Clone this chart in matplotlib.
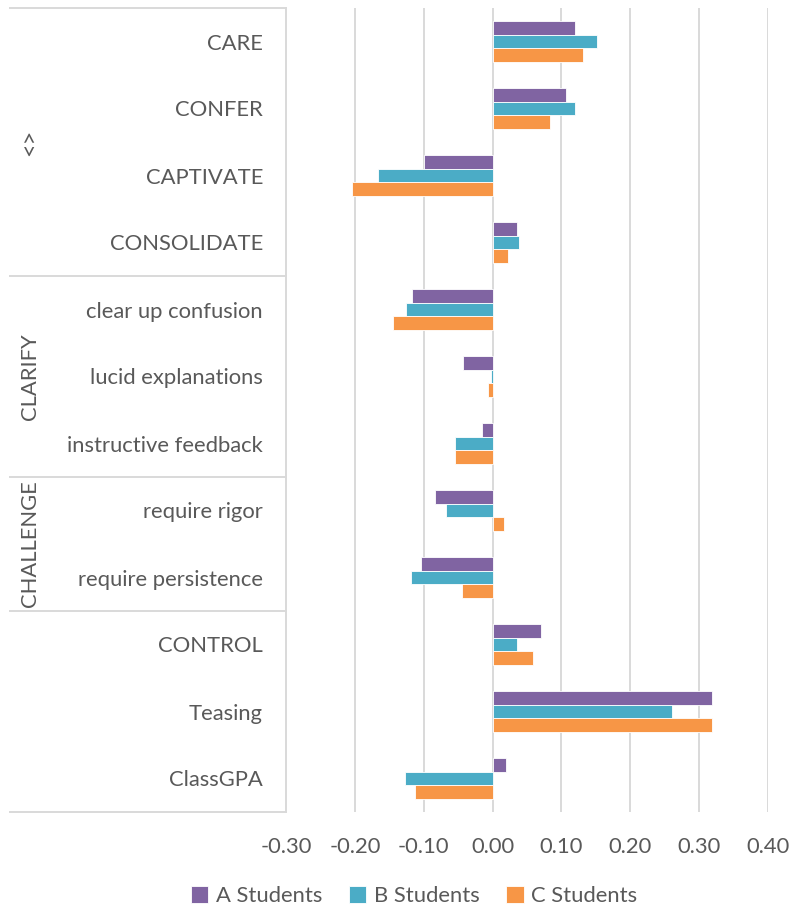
import numpy as np
import matplotlib.pyplot as plt
from matplotlib.transforms import blended_transform_factory

# categories, top to bottom
categories = ["CARE", "CONFER", "CAPTIVATE", "CONSOLIDATE",
              "clear up confusion", "lucid explanations", "instructive feedback",
              "require rigor", "require persistence",
              "CONTROL", "Teasing", "ClassGPA"]

# group labels on the left and how many categories each covers
groups = ["<>", "CLARIFY", "CHALLENGE", ""]
group_sizes = [4, 3, 2, 3]

series = ["A Students", "B Students", "C Students"]
a_students = [0.119, 0.107, -0.100, 0.036, -0.117, -0.043, -0.015, -0.084, -0.104, 0.070, 0.319, 0.019]
b_students = [0.151, 0.120, -0.167, 0.039, -0.125, -0.003, -0.054, -0.068, -0.118, 0.036, 0.261, -0.127]
c_students = [0.132, 0.083, -0.204, 0.023, -0.144, -0.006, -0.055, 0.017, -0.045, 0.059, 0.319, -0.113]

xticks = [-0.30, -0.20, -0.10, 0.00, 0.10, 0.20, 0.30, 0.40]

colors = ["#8064A2", "#4BACC6", "#F79646"]
text_col = "#595959"
grid_col = "#D9D9D9"

plt.rcParams["font.family"] = ["Lato", "DejaVu Sans"]

W, H = 804, 909
fig = plt.figure(figsize=(W / 100, H / 100), dpi=100)
left, right, top, bottom = 286, 768, 8, 812
ax = fig.add_axes([left / W, 1 - bottom / H, (right - left) / W, (bottom - top) / H])

y = np.arange(len(categories))
bh = 0.205
for i, (vals, name) in enumerate(zip([a_students, b_students, c_students], series)):
    ax.barh(y + (i - 1) * bh, vals, height=bh, color=colors[i], label=name,
            edgecolor="white", linewidth=0.6, zorder=3)

ax.set_xlim(-0.3, 0.4)
ax.set_ylim(len(categories) - 0.5, -0.5)
ax.set_xticks(xticks)
ax.set_xticklabels([f"{t:.2f}" for t in xticks])
ax.set_yticks(y)
ax.set_yticklabels(categories)
ax.tick_params(axis="y", length=0, pad=16.5, labelsize=15.8, labelcolor=text_col)
ax.tick_params(axis="x", length=0, pad=18, labelsize=15.8, labelcolor=text_col)

for t in xticks[1:]:
    ax.axvline(t, color=grid_col, lw=1.4, zorder=0)

for s in ["top", "right", "bottom"]:
    ax.spines[s].set_visible(False)
ax.spines["left"].set_color(grid_col)
ax.spines["left"].set_linewidth(1.4)

# multi-level category axis: separators and rotated group labels
tr = blended_transform_factory(ax.transAxes, ax.transData)
x0 = (10 - left) / (right - left)
xg = (30 - left) / (right - left)
edges = np.concatenate([[0], np.cumsum(group_sizes)]) - 0.5
for e in edges:
    ax.plot([x0, 0], [e, e], transform=tr, color=grid_col, lw=1.4, clip_on=False)
for g, a, b in zip(groups, edges[:-1], edges[1:]):
    ax.text(xg, (a + b) / 2, g, transform=tr, rotation=90, ha="center", va="center",
            fontsize=17 if g == "<>" else 15.8, color=text_col)

fig.legend(loc="center", bbox_to_anchor=(414 / W, 1 - 896 / H), ncol=3, frameon=False,
           fontsize=15.8, labelcolor=text_col, handlelength=0.8, handleheight=0.8,
           handletextpad=0.35, columnspacing=1.2)

fig.savefig("out.png", dpi=100)
